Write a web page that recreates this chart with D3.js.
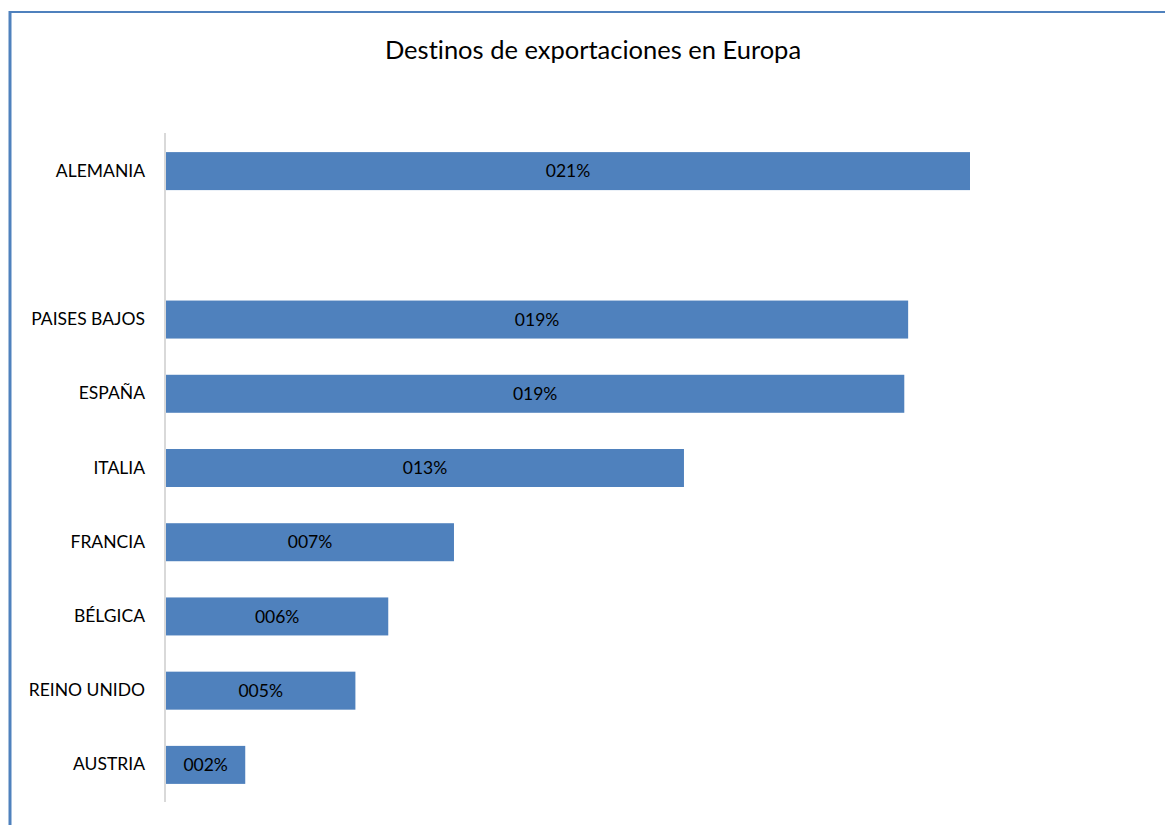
<!DOCTYPE html>
<html>
<head>
<meta charset="utf-8">
<script src="https://cdn.jsdelivr.net/npm/d3@7"></script>
<style>
  body { margin: 0; background: #fff; }
  text { font-family: Lato, "Open Sans", sans-serif; fill: #000; font-variant-ligatures: none; }
</style>
</head>
<body>
<svg id="chart"></svg>
<script>
// categories top to bottom, the blank one is an empty slot in the original chart
const countries = ["ALEMANIA", "", "PAISES BAJOS", "ESPAÑA", "ITALIA", "FRANCIA", "BÉLGICA", "REINO UNIDO", "AUSTRIA"];
const shares = [20.8, null, 19.2, 19.1, 13.4, 7.45, 5.75, 4.9, 2.05];
const chartTitle = "Destinos de exportaciones en Europa";

const W = 1165, H = 825;
const margin = {top: 134, left: 165, bottom: 23};
const xMax = 20.8 / 804 * (1165 - 166); // domain so that width matches picture

const svg = d3.select("#chart").attr("width", W).attr("height", H);

// frame on the left and top
svg.append("line").attr("x1", 10).attr("x2", 10).attr("y1", 11).attr("y2", H)
  .attr("stroke", "#4f81bd").attr("stroke-width", 3);
svg.append("line").attr("x1", 9).attr("x2", W).attr("y1", 12).attr("y2", 12)
  .attr("stroke", "#4f81bd").attr("stroke-width", 2);

const y = d3.scaleBand()
  .domain(countries.map((d, i) => i))
  .range([margin.top, H - margin.bottom])
  .paddingInner(0.488)
  .paddingOuter(0.244);

const x = d3.scaleLinear().domain([0, xMax]).range([margin.left + 1, W]);

svg.append("text")
  .attr("x", 593).attr("y", 59)
  .attr("text-anchor", "middle")
  .style("font-size", "25.5px")
  .text(chartTitle);

const yAxis = d3.axisLeft(y).tickSize(0).tickPadding(20).tickFormat(i => countries[i]);
const yAxisG = svg.append("g").attr("transform", `translate(${margin.left},0)`).call(yAxis);
yAxisG.select(".domain").attr("stroke", "#d9d9d9").attr("stroke-width", 2)
  .attr("d", `M0,${margin.top - 1}V${H - margin.bottom}`);
yAxisG.selectAll("text").style("font-size", "17.5px").style("font-family", "Lato, sans-serif").attr("fill", "#000");

const rows = shares.map((v, i) => ({i, v})).filter(d => d.v != null);

svg.selectAll(".bar").data(rows).join("rect")
  .attr("class", "bar")
  .attr("x", x(0))
  .attr("y", d => y(d.i))
  .attr("width", d => x(d.v) - x(0))
  .attr("height", y.bandwidth())
  .attr("fill", "#4f81bd");

svg.selectAll(".lbl").data(rows).join("text")
  .attr("class", "lbl")
  .attr("x", d => (x(0) + x(d.v)) / 2)
  .attr("y", d => y(d.i) + y.bandwidth() / 2)
  .attr("dy", "0.35em")
  .attr("text-anchor", "middle")
  .style("font-size", "17.5px")
  .text(d => String(Math.round(d.v)).padStart(3, "0") + "%");
</script>
</body>
</html>
